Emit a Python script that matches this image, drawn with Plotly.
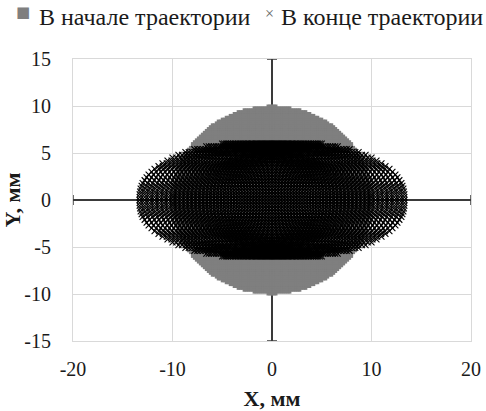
import plotly.graph_objects as go

# ---- data ----
# start of trajectory: square grid rows (y, half-width) of the disc
start_row_y = [0.0, 0.2, 0.4, 0.6, 0.8, 1.0, 1.2, 1.4, 1.6, 1.8, 2.0, 2.2, 2.4,
               2.6, 2.8, 3.0, 3.2, 3.4, 3.6, 3.8, 4.0, 4.2, 4.4, 4.6, 4.8, 5.0,
               5.2, 5.4, 5.6, 5.8, 6.0, 6.2, 6.4, 6.6, 6.8, 7.0, 7.2, 7.4, 7.6,
               7.8, 8.0, 8.2, 8.4, 8.6, 8.8, 9.0, 9.2, 9.4, 9.6, 9.8, 10.0]
start_row_halfwidth = [10.0, 10.0, 9.99, 9.98, 9.97, 9.95, 9.93, 9.90, 9.87, 9.84,
                       9.80, 9.75, 9.71, 9.66, 9.60, 9.54, 9.47, 9.40, 9.33, 9.25,
                       9.17, 9.08, 8.98, 8.88, 8.77, 8.66, 8.54, 8.42, 8.28, 8.15,
                       8.00, 7.85, 7.68, 7.51, 7.33, 7.14, 6.94, 6.73, 6.50, 6.26,
                       6.00, 5.72, 5.43, 5.10, 4.75, 4.36, 3.92, 3.41, 2.80, 1.99,
                       0.4]
start_step = 0.2

# end of trajectory: rows (y, half-width) of the lens-shaped region
end_row_y = [0.0, 0.3, 0.6, 0.9, 1.2, 1.5, 1.8, 2.1, 2.4, 2.7, 3.0, 3.3, 3.6,
             3.9, 4.2, 4.5, 4.8, 5.1, 5.4, 5.7, 6.0]
end_row_halfwidth = [13.3, 13.3, 13.3, 13.25, 13.2, 13.1, 13.0, 12.8, 12.6, 12.4,
                     12.1, 11.8, 11.4, 11.0, 10.5, 10.0, 9.4, 8.7, 7.8, 6.6, 5.0]
# column positions inside each row, as fractions of the row half-width
end_column_fraction = [0.0, 0.0222, 0.0445, 0.0668, 0.0892, 0.1116, 0.1343, 0.1570,
                       0.1800, 0.2031, 0.2265, 0.2501, 0.2741, 0.2983, 0.3229,
                       0.3478, 0.3731, 0.3988, 0.4250, 0.4516, 0.4787, 0.5064,
                       0.5345, 0.5633, 0.5926, 0.6225, 0.6531, 0.6844, 0.7163,
                       0.7490, 0.7824, 0.8166, 0.8516, 0.8874, 0.9241, 0.9616, 1.0]

x_ticks = [-20, -10, 0, 10, 20]
x_tick_text = ["-20", "-10", "0", "10", "20"]
y_ticks = [-15, -10, -5, 0, 5, 10, 15]
y_tick_text = ["-15", "-10", "-5", "0", "5", "10", "15"]

series_names = ["В начале траектории", "В конце траектории"]

# ---- build point sets ----
sx, sy = [], []
for yv, w in zip(start_row_y, start_row_halfwidth):
    ys = [yv] if yv == 0 else [yv, -yv]
    k = 0
    xs = [0.0]
    while (k + 1) * start_step <= w + 1e-9:
        k += 1
        xs += [k * start_step, -k * start_step]
    for yy in ys:
        for xx in xs:
            sx.append(xx)
            sy.append(yy)

ex, ey = [], []
for yv, w in zip(end_row_y, end_row_halfwidth):
    ys = [yv] if yv == 0 else [yv, -yv]
    for yy in ys:
        for f in end_column_fraction:
            fs = [f] if f == 0 else [f, -f]
            for ff in fs:
                ex.append(w * ff)
                ey.append(yy)

GRAY = "#7f7f7f"
FONT = "Liberation Serif, Times New Roman, serif"
TXT = "#1a1a1a"

fig = go.Figure()
fig.add_trace(go.Scatter(
    x=sx, y=sy, mode="markers", name=series_names[0], showlegend=False,
    marker=dict(symbol="square", size=3, color=GRAY, line=dict(width=0)),
    hoverinfo="skip"))
fig.add_trace(go.Scatter(
    x=ex, y=ey, mode="markers", name=series_names[1], showlegend=False,
    marker=dict(symbol="x-thin", size=6, color="#000000",
                line=dict(width=1.1, color="#000000")),
    hoverinfo="skip"))

# small cross tick marks on the axes that pass through zero
shapes = []
for t in x_ticks:
    if t == 0:
        continue
    shapes.append(dict(type="line", xref="x", yref="y", xsizemode="pixel",
                       ysizemode="pixel", xanchor=t, yanchor=0,
                       x0=0, x1=0, y0=-5, y1=5,
                       line=dict(color="#3a3a3a", width=1.5), layer="between"))
for t in y_ticks:
    if t == 0:
        continue
    shapes.append(dict(type="line", xref="x", yref="y", xsizemode="pixel",
                       ysizemode="pixel", xanchor=0, yanchor=t,
                       x0=-5, x1=5, y0=0, y1=0,
                       line=dict(color="#3a3a3a", width=1.5), layer="between"))

# legend drawn as text items at the top (x in paper units of the 398px plot)
annotations = [
    dict(xref="paper", yref="paper", x=(23 - 73) / 398, y=1.165, xanchor="center",
         yanchor="middle", text="■", showarrow=False,
         font=dict(size=15, color=GRAY, family="DejaVu Sans")),
    dict(xref="paper", yref="paper", x=(37 - 73) / 398, y=1.15, xanchor="left",
         yanchor="middle", text=series_names[0], showarrow=False,
         font=dict(size=24, color=TXT, family=FONT)),
    dict(xref="paper", yref="paper", x=(269 - 73) / 398, y=1.16, xanchor="center",
         yanchor="middle", text="×", showarrow=False,
         font=dict(size=16, color="#666666", family=FONT)),
    dict(xref="paper", yref="paper", x=(279 - 73) / 398, y=1.15, xanchor="left",
         yanchor="middle", text=series_names[1], showarrow=False,
         font=dict(size=24, color=TXT, family=FONT)),
]

fig.update_layout(
    width=486, height=411,
    margin=dict(l=73, r=15, t=59, b=70),
    paper_bgcolor="white", plot_bgcolor="white",
    font=dict(family=FONT, color=TXT, size=20),
    shapes=shapes, annotations=annotations, showlegend=False,
    xaxis=dict(range=[-20, 20], tickvals=x_ticks, ticktext=x_tick_text,
               showgrid=True, automargin=False,
               gridcolor="#d9d9d9", gridwidth=1, zeroline=True,
               zerolinecolor="#3a3a3a", zerolinewidth=1.5,
               showline=True, linecolor="#d9d9d9", mirror=True,
               ticks="", ticklabelstandoff=10,
               tickfont=dict(size=20, family=FONT, color=TXT),
               title=dict(text="<b>X, мм</b>",
                          font=dict(size=22, family=FONT, color=TXT), standoff=17)),
    yaxis=dict(range=[-15, 15], tickvals=y_ticks, ticktext=y_tick_text,
               showgrid=True, automargin=False,
               gridcolor="#d9d9d9", gridwidth=1, zeroline=True,
               zerolinecolor="#3a3a3a", zerolinewidth=1.5,
               showline=True, linecolor="#d9d9d9", mirror=True,
               ticks="", ticklabelstandoff=17,
               tickfont=dict(size=20, family=FONT, color=TXT),
               title=dict(text="<b>Y, мм</b>",
                          font=dict(size=22, family=FONT, color=TXT), standoff=0)),
)

fig.write_html("out.html", config={"displayModeBar": False},
               post_script="document.body.style.margin='0';")
